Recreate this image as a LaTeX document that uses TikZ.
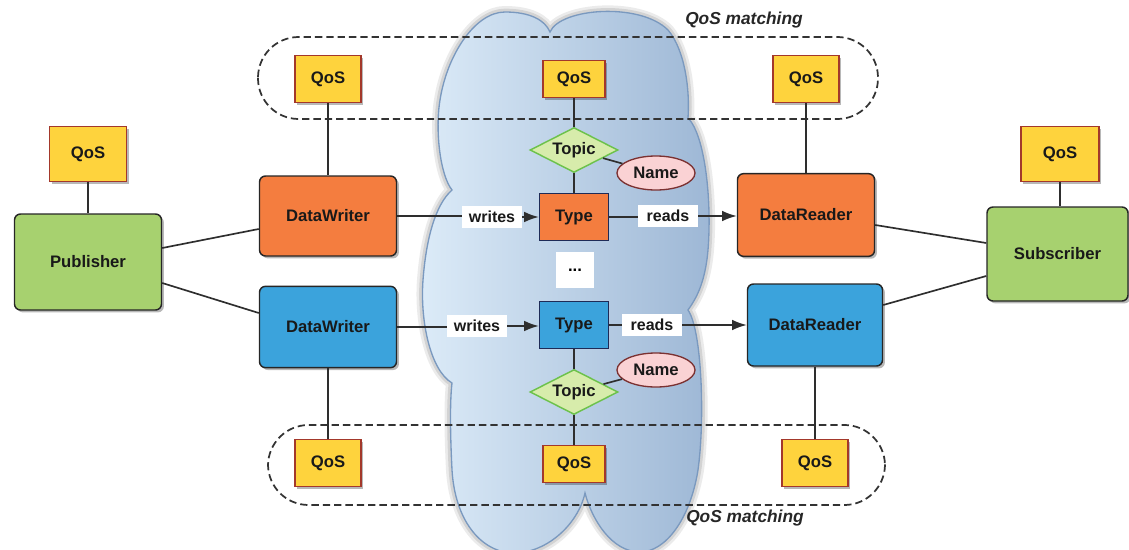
\documentclass[tikz,border=0pt]{standalone}
\usepackage{fontspec}
\setmainfont{Liberation Sans}
\usetikzlibrary{shapes.geometric,arrows.meta,shadows}

\definecolor{wrorange}{HTML}{F47D3F}
\definecolor{rdblue}{HTML}{3BA3DC}
\definecolor{entgreen}{HTML}{A7D16F}
\definecolor{qosyellow}{HTML}{FED33D}
\definecolor{qosedge}{HTML}{A3382B}
\definecolor{topicfill}{HTML}{D7ECAB}
\definecolor{topicedge}{HTML}{6DC24C}
\definecolor{namefill}{HTML}{FAD2D4}
\definecolor{nameedge}{HTML}{7B3131}
\definecolor{typeedge}{HTML}{1E2B57}
\definecolor{linegray}{HTML}{2E2E2E}
\definecolor{cloudleft}{HTML}{DCEBF8}
\definecolor{cloudright}{HTML}{9DB7D5}
\definecolor{cloudedge}{HTML}{7A99BF}

\begin{document}
\begin{tikzpicture}[x=0.75pt,y=-0.75pt,
  font=\fontsize{12.5}{14}\selectfont\bfseries,
  softshadow/.style={drop shadow={shadow xshift=1.8pt,shadow yshift=-1.8pt,opacity=0.28,fill=black}},
  entity/.style={draw=black!85,line width=1.1pt,rounded corners=4.5pt,softshadow,
    text=black!90,inner sep=0pt},
  pubsub/.style={entity,fill=entgreen},
  orangebox/.style={entity,fill=wrorange,minimum width=102.75pt,minimum height=60pt},
  bluebox/.style={entity,fill=rdblue,minimum width=102.75pt,minimum height=61pt},
  qos/.style={draw=qosedge,fill=qosyellow,line width=1pt,softshadow,text=black!90,
    inner sep=0pt,minimum width=49.5pt,minimum height=35.25pt},
  qossmall/.style={qos,minimum width=46.5pt,minimum height=27.75pt},
  typebox/.style={draw=typeedge,line width=1pt,text=black!90,inner sep=0pt,
    minimum width=51.75pt,minimum height=35.25pt},
  topicbox/.style={diamond,aspect=2,draw=topicedge,fill=topicfill,line width=1.1pt,
    text=black!90,inner sep=0pt,minimum width=66pt,minimum height=33.75pt},
  namebox/.style={ellipse,draw=nameedge,fill=namefill,line width=1pt,text=black!90,
    inner sep=0pt,minimum width=58.5pt,minimum height=25.5pt},
  flowlabel/.style={fill=white,text=black!90,inner sep=1pt,minimum width=45pt,
    minimum height=16pt,font=\fontsize{12}{14}\selectfont\bfseries},
  conn/.style={draw=linegray,line width=1.25pt},
  flow/.style={conn,-{Latex[length=11pt,width=8pt]}},
  qosgroup/.style={draw=black!80,line width=1.3pt,dash pattern=on 5.5pt off 3pt,
    rounded corners=30.5pt},
  grouplabel/.style={text=black!85,font=\fontsize{13}{15}\selectfont\bfseries\itshape}]

\useasboundingbox (0,0) rectangle (1129,550);

% ---- the global data space cloud ----
\begin{scope}
\clip (0,0) rectangle (1129,550);
\def\cloudpath{(550,32) .. controls (560,8) and (640,2) .. (668,30)
  .. controls (685,50) and (690,90) .. (688,118)
  .. controls (705,135) and (712,200) .. (708,250)
  .. controls (705,285) and (695,300) .. (688,310)
  .. controls (702,330) and (705,420) .. (698,470)
  .. controls (690,520) and (665,552) .. (640,552)
  .. controls (612,552) and (592,520) .. (585,493)
  .. controls (578,525) and (545,555) .. (510,553)
  .. controls (480,550) and (455,520) .. (452,470)
  .. controls (450,430) and (450,400) .. (452,383)
  .. controls (430,370) and (420,320) .. (423,280)
  .. controls (426,240) and (435,205) .. (452,190)
  .. controls (440,175) and (435,130) .. (440,100)
  .. controls (447,55) and (475,12) .. (505,12)
  .. controls (530,12) and (545,20) .. (550,32) -- cycle}
\draw[black,opacity=0.08,line width=9pt] \cloudpath;
\draw[black,opacity=0.10,line width=5pt] \cloudpath;
\path[left color=cloudleft,right color=cloudright,draw=cloudedge,line width=1pt] \cloudpath;
\end{scope}

% ---- QoS matching groups ----
\draw[qosgroup] (258,37) rectangle (878,119);
\draw[qosgroup] (268,425) rectangle (885,505);
\node[grouplabel] (matchtop) at (744,20) {QoS matching};
\node[grouplabel] (matchbot) at (745,518) {QoS matching};

% ---- entities ----
\node[pubsub,minimum width=110.25pt,minimum height=72pt] (pub) at (88,262) {Publisher};
\node[qos,minimum width=57.75pt,minimum height=41.25pt] (pubqos) at (88,154) {QoS};
\node[pubsub,minimum width=105.75pt,minimum height=70.5pt] (sub) at (1057.5,254) {Subscriber};
\node[qos,minimum width=58.5pt,minimum height=41.25pt] (subqos) at (1060,154) {QoS};

\node[orangebox] (dw1) at (328,216) {DataWriter};
\node[bluebox] (dw2) at (328,327) {DataWriter};
\node[orangebox,minimum height=62pt] (dr1) at (806,215) {DataReader};
\node[bluebox,minimum width=101.25pt,minimum height=61.5pt] (dr2) at (815,325) {DataReader};

\node[qos] (tl) at (328,79) {QoS};
\node[qossmall] (tm) at (574,79) {QoS};
\node[qos] (tr) at (806,79) {QoS};
\node[qos] (bl) at (328,463) {QoS};
\node[qossmall] (bm) at (574,464) {QoS};
\node[qos] (br) at (815,463) {QoS};

\node[typebox,fill=wrorange] (type1) at (574,217) {Type};
\node[typebox,fill=rdblue] (type2) at (574,325) {Type};
\node[fill=white,inner sep=0pt,minimum width=28.5pt,minimum height=27pt] (more) at (575,270) {...};

\node[topicbox] (topic1) at (574,150) {Topic};
\node[namebox] (name1) at (656,173) {Name};
\node[topicbox] (topic2) at (574,392) {Topic};
\node[namebox] (name2) at (656,370) {Name};

\node[flowlabel] (w1) at (492,217) {writes};
\node[flowlabel] (r1) at (668,216) {reads};
\node[flowlabel] (w2) at (477,326) {writes};
\node[flowlabel] (r2) at (652,325) {reads};

% ---- connectors ----
\draw[conn] (pubqos) -- (pub);
\draw[conn] (subqos.south) -- (subqos.south |- sub.north);
\draw[conn] ([yshift=10.5pt]pub.east) -- ([yshift=-9.75pt]dw1.west);
\draw[conn] ([yshift=-15.75pt]pub.east) -- ([yshift=10.5pt]dw2.west);
\draw[conn] ([yshift=-7.5pt]dr1.east) -- ([yshift=8.25pt]sub.west);
\draw[conn] ([yshift=15pt]dr2.east) -- ([yshift=-16.5pt]sub.west);

\draw[conn] (tl) -- (dw1);
\draw[conn] (tr) -- (dr1);
\draw[conn] (dw2) -- (bl);
\draw[conn] (dr2) -- (br);

\draw[conn] (tm) -- (topic1);
\draw[conn] (topic1) -- (type1);
\draw[conn] (topic1) -- (name1);
\draw[conn] (type2) -- (topic2);
\draw[conn] (topic2) -- (bm);
\draw[conn] (topic2) -- (name2);

\draw[conn] (dw1.east) -- (dw1.east -| w1.west);
\draw[flow] (w1.east) -- (w1.east -| type1.west);
\draw[conn] (type1.east) -- (type1.east -| r1.west);
\draw[flow] (r1.east) -- (r1.east -| dr1.west);
\draw[conn] (dw2.east) -- (dw2.east -| w2.west);
\draw[flow] (w2.east) -- (w2.east -| type2.west);
\draw[conn] (type2.east) -- (type2.east -| r2.west);
\draw[flow] (r2.east) -- (r2.east -| dr2.west);

\end{tikzpicture}
\end{document}
